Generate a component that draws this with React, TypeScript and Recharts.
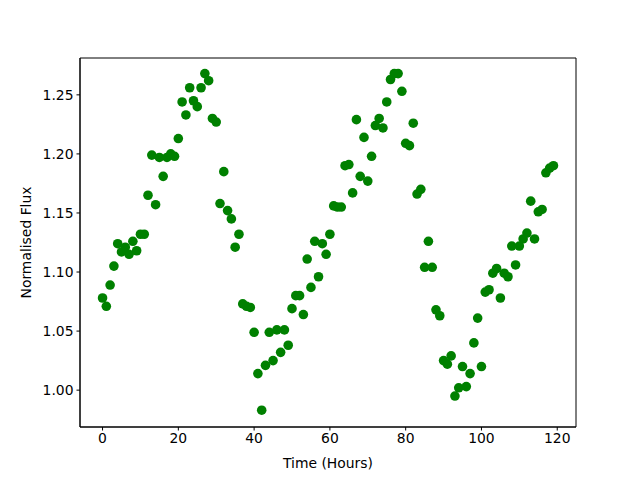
import { ScatterChart, Scatter, XAxis, YAxis, ReferenceArea } from "recharts";

// hours since start of observation
const hours: number[] = Array.from({ length: 120 }, (_, i) => i);

// normalised flux, one per hour
const flux: number[] = [
  1.078, 1.071, 1.089, 1.105, 1.124, 1.117, 1.121, 1.115, 1.126, 1.118,
  1.132, 1.132, 1.165, 1.199, 1.157, 1.197, 1.181, 1.197, 1.2, 1.198,
  1.213, 1.244, 1.233, 1.256, 1.245, 1.24, 1.256, 1.268, 1.262, 1.23,
  1.227, 1.158, 1.185, 1.152, 1.145, 1.121, 1.132, 1.073, 1.071, 1.07,
  1.049, 1.014, 0.983, 1.021, 1.049, 1.025, 1.051, 1.032, 1.051, 1.038,
  1.069, 1.08, 1.08, 1.064, 1.111, 1.087, 1.126, 1.096, 1.124, 1.115,
  1.132, 1.156, 1.155, 1.155, 1.19, 1.191, 1.167, 1.229, 1.181, 1.214,
  1.177, 1.198, 1.224, 1.23, 1.222, 1.244, 1.263, 1.268, 1.268, 1.253,
  1.209, 1.207, 1.226, 1.166, 1.17, 1.104, 1.126, 1.104, 1.068, 1.063,
  1.025, 1.022, 1.029, 0.995, 1.002, 1.02, 1.003, 1.014, 1.04, 1.061,
  1.02, 1.083, 1.085, 1.099, 1.103, 1.078, 1.099, 1.096, 1.122, 1.106,
  1.122, 1.128, 1.133, 1.16, 1.128, 1.151, 1.153, 1.184, 1.188, 1.19,
];

const xTicks = [0, 20, 40, 60, 80, 100, 120];
const yTicks = [1.0, 1.05, 1.1, 1.15, 1.2, 1.25];

const X_DOMAIN: [number, number] = [-5.95, 124.95];
const Y_DOMAIN: [number, number] = [0.9688, 1.2812];

const data = hours.map((h, i) => ({ hour: h, flux: flux[i] }));

const FONT = "DejaVu Sans, sans-serif";
const tickStyle = { fill: "#000", fontSize: 13.9, fontFamily: FONT };

const Dot = (props: any) => (
  <circle cx={props.cx} cy={props.cy} r={4.8} fill="#008000" />
);

const App = () => {
  return (
    <div style={{ position: "absolute", left: 0, top: 0, background: "#fff" }}>
      <ScatterChart
        width={640}
        height={480}
        margin={{ top: 58, right: 64, left: 0, bottom: 0 }}
      >
        <XAxis
          type="number"
          dataKey="hour"
          domain={X_DOMAIN}
          ticks={xTicks}
          allowDataOverflow
          height={53}
          axisLine={{ stroke: "#000" }}
          tickLine={{ stroke: "#000" }}
          tickSize={3.5}
          tickMargin={3}
          tick={tickStyle}
          label={{
            value: "Time (Hours)",
            position: "insideBottom",
            offset: 12,
            style: { fill: "#000", fontSize: 13.9, fontFamily: FONT },
          }}
        />
        <YAxis
          type="number"
          dataKey="flux"
          domain={Y_DOMAIN}
          ticks={yTicks}
          allowDataOverflow
          width={80}
          axisLine={{ stroke: "#000" }}
          tickLine={{ stroke: "#000" }}
          tickSize={3.5}
          tickMargin={3}
          tick={tickStyle}
          tickFormatter={(v: number) => v.toFixed(2)}
          label={{
            value: "Normalised Flux",
            angle: -90,
            position: "insideLeft",
            offset: 26,
            style: { fill: "#000", fontSize: 13.9, fontFamily: FONT, textAnchor: "middle" },
          }}
        />
        <ReferenceArea
          x1={X_DOMAIN[0]}
          x2={X_DOMAIN[1]}
          y1={Y_DOMAIN[0]}
          y2={Y_DOMAIN[1]}
          fill="none"
          stroke="#000"
          strokeWidth={1}
          ifOverflow="extendDomain"
        />
        <Scatter data={data} shape={Dot} isAnimationActive={false} />
      </ScatterChart>
    </div>
  );
};

export default App;
